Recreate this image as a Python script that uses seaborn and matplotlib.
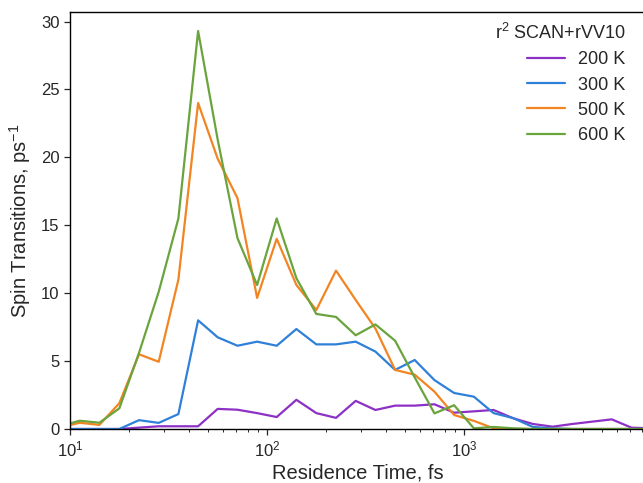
import numpy as np
import pandas as pd
import matplotlib
matplotlib.use("Agg")
import matplotlib.pyplot as plt
import seaborn as sns

# Bin centres (fs), log-spaced
residence_time = [8.9, 11.2, 14.1, 17.8, 22.4, 28.2, 35.5, 44.7, 56.2, 70.8,
                  89.1, 112, 141, 178, 224, 282, 355, 447, 562, 708,
                  891, 1122, 1413, 1778, 2239, 2818, 3548, 4467, 5623, 7079, 8913]

t200 = [0.0, 0.0, 0.0, 0.0, 0.1, 0.2, 0.2, 0.2, 1.48, 1.42, 1.17, 0.88, 2.15, 1.17,
        0.82, 2.07, 1.4, 1.72, 1.72, 1.82, 1.2, 1.3, 1.4, 0.79, 0.37, 0.17, 0.37,
        0.54, 0.71, 0.1, 0.05]
t300 = [0.0, 0.0, 0.0, 0.0, 0.65, 0.45, 1.1, 8.0, 6.75, 6.13, 6.43, 6.13, 7.36, 6.23,
        6.23, 6.43, 5.7, 4.35, 5.08, 3.6, 2.65, 2.38, 1.17, 0.8, 0.15, 0.05, 0.0,
        0.0, 0.0, 0.0, 0.0]
t500 = [0.1, 0.46, 0.3, 1.9, 5.5, 4.95, 11.0, 24.0, 19.9, 17.0, 9.65, 14.0, 10.6, 8.76,
        11.66, 9.5, 7.4, 4.35, 4.0, 2.75, 1.03, 0.6, 0.05, 0.0, 0.0, 0.0, 0.0,
        0.0, 0.0, 0.0, 0.0]
t600 = [0.2, 0.61, 0.46, 1.52, 5.6, 10.1, 15.5, 29.3, 21.3, 14.06, 10.6, 15.5, 11.1, 8.47,
        8.25, 6.9, 7.7, 6.5, 3.8, 1.15, 1.75, 0.05, 0.15, 0.05, 0.0, 0.0, 0.0,
        0.0, 0.0, 0.0, 0.0]

labels = ["200 K", "300 K", "500 K", "600 K"]
colors = ["#8d30c6", "#2f80d9", "#f28522", "#6aa43c"]

frames = []
for lab, vals in zip(labels, [t200, t300, t500, t600]):
    frames.append(pd.DataFrame({"time": residence_time, "rate": vals, "T": lab}))
df = pd.concat(frames, ignore_index=True)

sns.set_style("ticks")
plt.rcParams["font.family"] = ["Liberation Sans", "DejaVu Sans"]
plt.rcParams["mathtext.fontset"] = "custom"
plt.rcParams["mathtext.rm"] = "Liberation Sans"
plt.rcParams["mathtext.it"] = "Liberation Sans:italic"
plt.rcParams["mathtext.bf"] = "Liberation Sans:bold"

W, H = 643, 483
fig = plt.figure(figsize=(W / 100, H / 100), dpi=100)
ax = fig.add_axes([70 / W, 1 - 429 / H, (646 - 70) / W, (429 - 12) / H])

sns.lineplot(data=df, x="time", y="rate", hue="T", palette=colors,
             linewidth=1.6, ax=ax, legend=True)

ax.set_xscale("log")
ax.set_xlim(10, 10 ** (1 + 576 / 197))
ax.set_ylim(0, 30.7)
ax.set_yticks([0, 5, 10, 15, 20, 25, 30])
ax.spines["right"].set_visible(False)
for s in ["left", "bottom", "top"]:
    ax.spines[s].set_linewidth(1.0)
    ax.spines[s].set_color("black")

ax.tick_params(axis="both", which="major", labelsize=12, length=4, width=0.9, direction="out")
ax.tick_params(axis="x", which="minor", length=2.5, width=0.7)

ax.set_xlabel("Residence Time, fs", fontsize=14.5, labelpad=3)
ax.set_ylabel("Spin Transitions, ps$^{-1}$", fontsize=14.5, labelpad=6)

leg = ax.legend(title="r$^2$ SCAN+rVV10", frameon=False, fontsize=13,
                title_fontsize=13, loc="upper right",
                bbox_to_anchor=(642 / W, 1 - 7 / H), bbox_transform=fig.transFigure,
                handlelength=2.1, labelspacing=0.45, handletextpad=0.75)
leg._legend_box.align = "right"

fig.savefig("out.png", dpi=100)
